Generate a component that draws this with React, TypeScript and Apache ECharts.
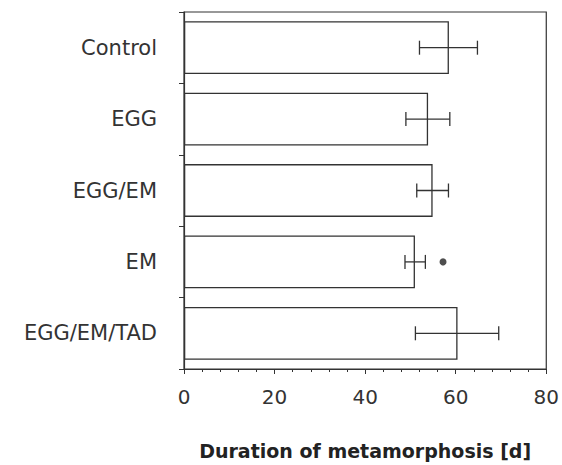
import React, { useEffect, useRef } from "react";
import * as echarts from "echarts";

const categories = ["Control", "EGG", "EGG/EM", "EM", "EGG/EM/TAD"];
const means = [58.5, 53.9, 54.9, 51.0, 60.4];
const errLow = [52.0, 49.0, 51.4, 48.8, 51.1];
const errHigh = [64.8, 58.7, 58.4, 53.3, 69.5];
const significance = [{ category: "EM", value: 57.2 }];
const xTicks = [0, 20, 40, 60, 80];

export default function App() {
  const ref = useRef<HTMLDivElement>(null);
  useEffect(() => {
    const chart = echarts.init(ref.current!, null, { renderer: "svg" });
    const font = "'DejaVu Sans', sans-serif";
    const errData = categories.map((c, i) => [i, errLow[i], errHigh[i]]);
    chart.setOption({
      animation: false,
      backgroundColor: "#fff",
      grid: {
        left: 184,
        right: 12,
        top: 12,
        bottom: 96,
        show: true,
        borderColor: "#333",
        borderWidth: 1.2,
        backgroundColor: "transparent",
      },
      xAxis: {
        type: "value",
        min: xTicks[0],
        max: xTicks[xTicks.length - 1],
        interval: 20,
        name: "Duration of metamorphosis [d]",
        nameLocation: "middle",
        nameGap: 72,
        nameTextStyle: { fontFamily: font, fontSize: 19, fontWeight: "bold", color: "#222" },
        axisLine: { show: true, lineStyle: { color: "#333", width: 1.2 } },
        axisTick: { show: true, length: 5, lineStyle: { color: "#333" } },
        minorTick: { show: true, splitNumber: 5, length: 3, lineStyle: { color: "#333" } },
        splitLine: { show: false },
        axisLabel: { fontFamily: font, fontSize: 20, color: "#333", margin: 18 },
      },
      yAxis: {
        type: "category",
        data: categories,
        inverse: true,
        axisLine: { show: true, lineStyle: { color: "#333", width: 1.2 } },
        axisTick: { show: true, length: 5, lineStyle: { color: "#333" } },
        axisLabel: { fontFamily: font, fontSize: 21, color: "#333", margin: 27 },
        splitLine: { show: false },
      },
      series: [
        {
          type: "bar",
          data: means,
          barCategoryGap: "26%",
          itemStyle: { color: "#fff", borderColor: "#333", borderWidth: 1.3 },
          z: 2,
        },
        {
          type: "custom",
          data: errData,
          z: 3,
          renderItem: (params: any, api: any) => {
            const idx = api.value(0);
            const lo = api.coord([api.value(1), idx]);
            const hi = api.coord([api.value(2), idx]);
            const h = 7;
            const style = { stroke: "#333", lineWidth: 1.3 };
            return {
              type: "group",
              children: [
                { type: "line", shape: { x1: lo[0], y1: lo[1], x2: hi[0], y2: hi[1] }, style },
                { type: "line", shape: { x1: lo[0], y1: lo[1] - h, x2: lo[0], y2: lo[1] + h }, style },
                { type: "line", shape: { x1: hi[0], y1: hi[1] - h, x2: hi[0], y2: hi[1] + h }, style },
              ],
            };
          },
        },
        {
          type: "scatter",
          data: significance.map((s) => [s.value, s.category]),
          symbol: "circle",
          symbolSize: 7,
          itemStyle: { color: "#222" },
          z: 4,
        },
      ],
    });
    return () => chart.dispose();
  }, []);
  return <div ref={ref} style={{ width: 562, height: 465, position: "absolute", left: 0, top: 0 }} />;
}
